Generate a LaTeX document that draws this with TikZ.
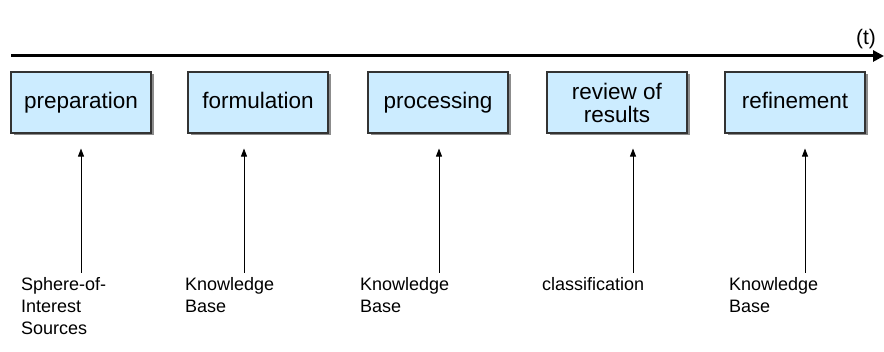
\documentclass[tikz,border=0pt]{standalone}
\usepackage{fontspec}
\setmainfont{Liberation Sans}
\usetikzlibrary{arrows.meta,positioning,shadows}

\definecolor{stepfill}{RGB}{204,236,255}
\definecolor{stepline}{RGB}{51,51,51}

\begin{document}
\begin{tikzpicture}[x=1pt,y=-1pt,
    phase/.style={draw=stepline,line width=1.1pt,fill=stepfill,
      minimum width=140pt,minimum height=61pt,inner sep=0pt,
      font=\fontsize{22.5}{23}\selectfont,text height=14pt,text depth=2pt,
      drop shadow={shadow xshift=2.5pt,shadow yshift=-2.5pt,fill=black!45,opacity=1}},
    twoline/.style={align=center,text height=,text depth=},
    source/.style={anchor=north west,inner sep=0pt,align=left,
      font=\fontsize{18}{22}\selectfont},
    timeline/.style={line width=3pt,-{Triangle[length=11pt,width=11pt]}},
    feed/.style={line width=0.8pt,-{Triangle[length=8pt,width=6pt]},shorten >=15pt}]

    \useasboundingbox (0,0) rectangle (884,352);

    % time axis
    \coordinate (t0) at (11,56);
    \coordinate (t1) at (884,56);
    \draw[timeline] (t0) -- (t1);
    \node[font=\fontsize{21}{22}\selectfont] (time) at (866,39) {(t)};

    % phases along the axis
    \node[phase] (prep) at (81,102.5) {preparation};
    \node[phase] (form) at (258,102.5) {formulation};
    \node[phase] (proc) at (438,102.5) {processing};
    \node[phase,twoline] (rev) at (617,102.5) {review of\\results};
    \node[phase] (ref)  at (795,102.5) {refinement};

    % inputs feeding each phase
    \node[source] (soi)   at (21,277)  {Sphere-of-\\Interest\\Sources};
    \node[source] (kb1)   at (185,277) {Knowledge\\Base};
    \node[source] (kb2)   at (360,277) {Knowledge\\Base};
    \node[source] (class) at (542,277) {classification};
    \node[source] (kb3)   at (729,277) {Knowledge\\Base};

    \coordinate (f1) at (81,273);
    \coordinate (f2) at (244,273);
    \coordinate (f3) at (439,273);
    \coordinate (f4) at (633,273);
    \coordinate (f5) at (805,273);

    \draw[feed] (f1) -- (f1 |- prep.south);
    \draw[feed] (f2) -- (f2 |- form.south);
    \draw[feed] (f3) -- (f3 |- proc.south);
    \draw[feed] (f4) -- (f4 |- rev.south);
    \draw[feed] (f5) -- (f5 |- ref.south);
\end{tikzpicture}
\end{document}
